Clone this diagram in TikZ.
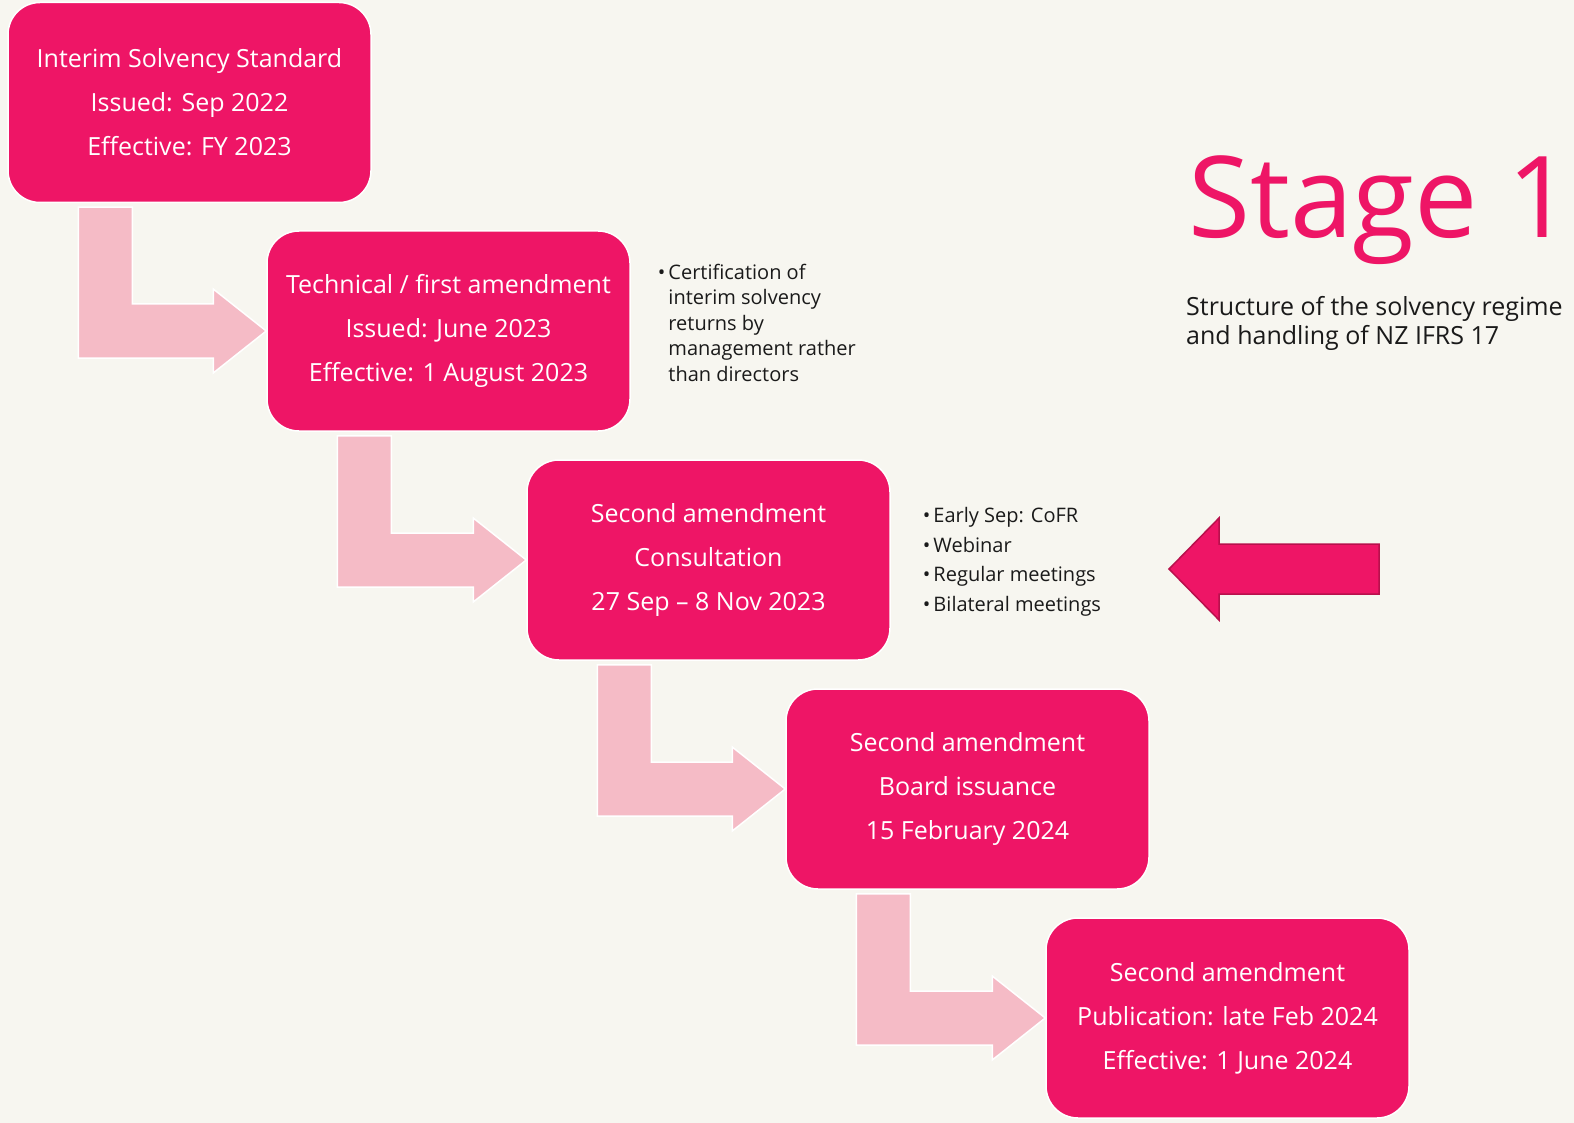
\documentclass[tikz,border=0pt]{standalone}
\usepackage{fontspec}
\setmainfont{Open Sans}
\usetikzlibrary{positioning,calc,backgrounds}
\definecolor{regPink}{HTML}{EE1566}
\definecolor{regBlush}{HTML}{F5BBC6}
\definecolor{regPaper}{HTML}{F7F6F0}
\definecolor{regEdge}{HTML}{B8104C}
\definecolor{regInk}{HTML}{1A1A1A}

\begin{document}
\begin{tikzpicture}[x=1pt,y=-1pt]

%% ── helpers ───────────────────────────────────────────────
\tikzset{
  stagebox/.style={rectangle,draw=white,line width=1.5pt,fill=regPink,
                   rounded corners=32pt,minimum width=363pt,minimum height=200pt,
                   align=center,text=white,font=\fontsize{25}{44}\selectfont},
  elbow/.style={fill=regBlush,draw=white,line width=1.5pt},
  notes/.style={anchor=west,align=left,text=regInk,inner sep=0pt,
                font=\fontsize{20}{25.5}\selectfont},
  bigarr/.style={fill=regPink,draw=regEdge,line width=1.5pt},
}

\useasboundingbox (0,0) rectangle (1574,1123);

%% ── STAGE BOXES (staircase, 259/229 apart) ───────────────
\node[stagebox] (b1) at (189.5,102.5)
  {Interim Solvency Standard\\Issued: Sep 2022\\Effective: FY 2023};
\node[stagebox] (b2) at (448.5,331)
  {Technical / first amendment\\Issued: June 2023\\Effective: 1 August 2023};
\node[stagebox] (b3) at (708.5,560)
  {Second amendment\\Consultation\\27 Sep -- 8 Nov 2023};
\node[stagebox] (b4) at (967.5,789)
  {Second amendment\\Board issuance\\15 February 2024};
\node[stagebox] (b5) at (1227.5,1018)
  {Second amendment\\Publication: late Feb 2024\\Effective: 1 June 2024};

%% ── SIDE NOTES ───────────────────────────────────────────
\node[notes] (note1) at ($(b2.east)+(27,-6)$)
  {\begin{tabular}{@{}l@{\hspace{3pt}}l@{}}
   \textbullet & Certification of\\
               & interim solvency\\
               & returns by\\
               & management rather\\
               & than directors
   \end{tabular}};
\node[notes] (note2) at ($(b3.east)+(32,2)$)
  {\begin{tabular}{@{}l@{\hspace{3pt}}l@{}}
   \textbullet & Early Sep: CoFR\\[4pt]
   \textbullet & Webinar\\[4pt]
   \textbullet & Regular meetings\\[4pt]
   \textbullet & Bilateral meetings
   \end{tabular}};

%% ── TITLE ────────────────────────────────────────────────
\node[anchor=base west,inner sep=0pt,text=regPink,
      font=\fontsize{113}{113}\selectfont] (title) at (1188,238) {Stage 1};
\node[anchor=north west,inner sep=0pt,align=left,text=regInk,
      font=\fontsize{25}{29}\selectfont] (subtitle) at (1186,296)
  {Structure of the solvency regime\\and handling of NZ IFRS 17};

%% ── POINTER ARROW (towards second amendment) ─────────────
\draw[bigarr] (1169,569) -- (1219,518) -- (1219,544) -- (1379,544)
  -- (1379,594) -- (1219,594) -- (1219,620) -- cycle;

%% ── BACKGROUND + BENT ARROWS ─────────────────────────────
\begin{scope}[on background layer]
  \fill[regPaper] (0,0) rectangle (1574,1123);
  \foreach \a/\b in {b1/b2,b2/b3,b3/b4,b4/b5}{
    \path ($(\a.south west)+(71,4)$) coordinate (s)
          ($(\b.west)+(-53,0)$) coordinate (h);
    \draw[elbow] (s) -- ++(54,0) |- ($(h)+(0,-27)$) -- ++(0,-15) -- (\b.west)
      -- ($(h)+(0,42)$) -- ++(0,-15) -| (s) -- cycle;
  }
\end{scope}

\end{tikzpicture}
\end{document}
